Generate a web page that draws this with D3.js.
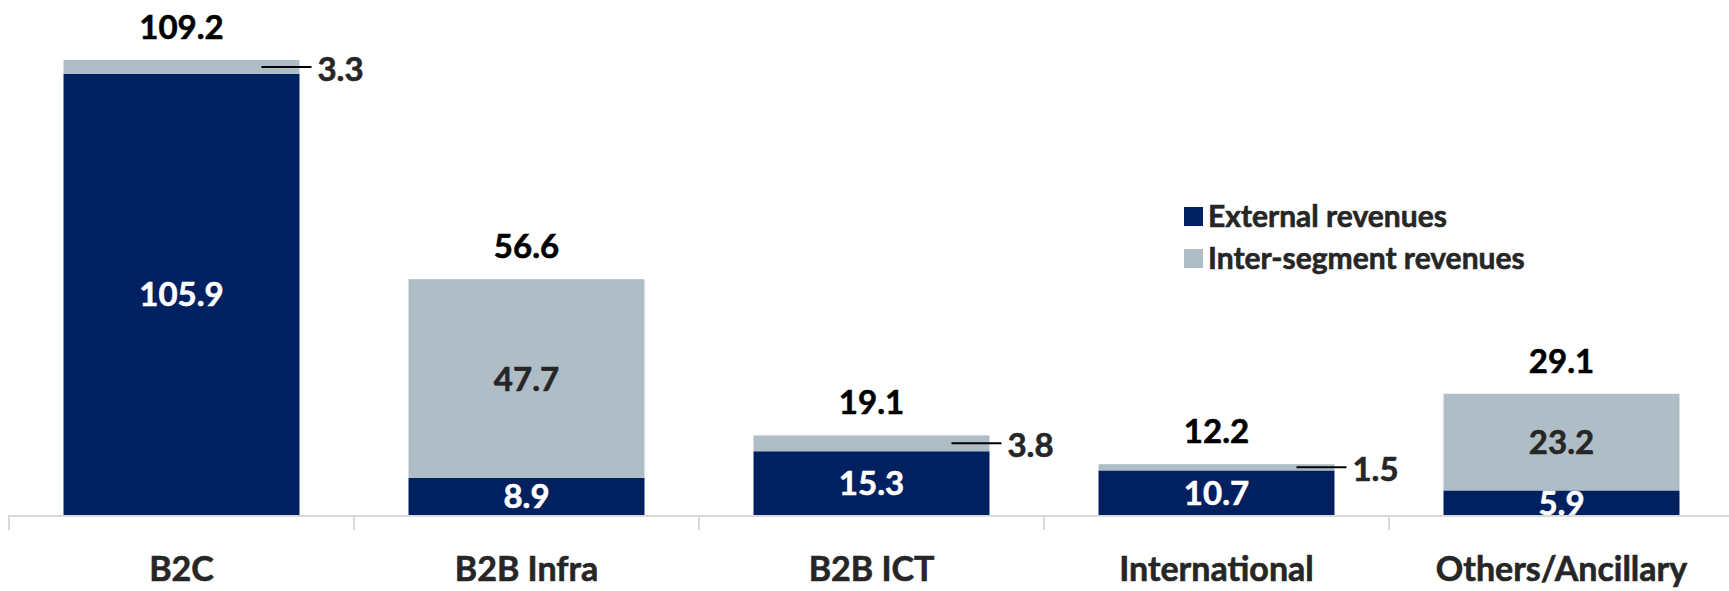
<!DOCTYPE html>
<meta charset="utf-8">
<script src="https://cdn.jsdelivr.net/npm/d3@7"></script>
<style>
body { margin: 0; background: #fff; }
text { font-family: Lato, "Open Sans", sans-serif; font-weight: bold; stroke-width: 0.6px; }
</style>
<body>
<script>

// values
var categories = ["B2C", "B2B Infra", "B2B ICT", "International", "Others/Ancillary"];
var external = [105.9, 8.9, 15.3, 10.7, 5.9];
var interSegment = [3.3, 47.7, 3.8, 1.5, 23.2];
var totals = [109.2, 56.6, 19.1, 12.2, 29.1];
var seriesNames = ["External revenues", "Inter-segment revenues"];

var width = 1729,
    height = 591,
    baseY = 515;

var navy = "#002060",
    grey = "#AFBDC6",
    dark = "#262626";

var svg = d3.select("body").append("svg")
    .attr("width", width)
    .attr("height", height);

var x = d3.scaleBand()
    .domain(categories)
    .range([9, 9 + 345 * categories.length])
    .paddingInner(0.316)
    .paddingOuter(0.158);

var y = d3.scaleLinear()
    .domain([0, 120])
    .range([baseY, baseY - 500]);

var rows = categories.map(function(c, i) {
  return {cat: c, ext: external[i], inter: interSegment[i], total: totals[i]};
});

svg.append("clipPath").attr("id", "plot")
  .append("rect").attr("x", 0).attr("y", 0).attr("width", width).attr("height", baseY);

// bars
var bars = svg.append("g");
bars.selectAll("rect.ext")
    .data(rows)
    .enter().append("rect")
    .attr("class", "ext")
    .attr("x", d => x(d.cat))
    .attr("width", x.bandwidth())
    .attr("y", d => y(d.ext))
    .attr("height", d => baseY - y(d.ext))
    .style("fill", navy);

bars.selectAll("rect.inter")
    .data(rows)
    .enter().append("rect")
    .attr("class", "inter")
    .attr("x", d => x(d.cat))
    .attr("width", x.bandwidth())
    .attr("y", d => y(d.ext + d.inter))
    .attr("height", d => y(d.ext) - y(d.ext + d.inter))
    .style("fill", grey);

// axis
svg.append("line")
    .attr("x1", 9).attr("x2", width)
    .attr("y1", baseY + 1).attr("y2", baseY + 1)
    .style("stroke", "#D9D9D9").style("stroke-width", 2);

svg.append("g").selectAll("line")
    .data(d3.range(categories.length + 1))
    .enter().append("line")
    .attr("x1", i => 9 + x.step() * i).attr("x2", i => 9 + x.step() * i)
    .attr("y1", baseY).attr("y2", baseY + 15)
    .style("stroke", "#D9D9D9").style("stroke-width", 2);

svg.append("g").selectAll("text")
    .data(categories)
    .enter().append("text")
    .attr("x", d => x(d) + x.bandwidth() / 2)
    .attr("y", 581)
    .attr("text-anchor", "middle")
    .style("font-size", "34px")
    .style("fill", dark).style("stroke", dark)
    .text(d => d);

// labels
var labels = svg.append("g").attr("clip-path", "url(#plot)");
labels.selectAll("text.ext")
    .data(rows)
    .enter().append("text")
    .attr("x", d => x(d.cat) + x.bandwidth() / 2)
    .attr("y", d => (y(d.ext) + baseY) / 2 + 12)
    .attr("text-anchor", "middle")
    .style("font-size", "33px")
    .style("fill", "#fff").style("stroke", "#fff")
    .text(d => d.ext.toFixed(1));

var small = rows.filter(d => y(d.ext) - y(d.ext + d.inter) < 30);
var big = rows.filter(d => y(d.ext) - y(d.ext + d.inter) >= 30);

svg.append("g").selectAll("text")
    .data(big)
    .enter().append("text")
    .attr("x", d => x(d.cat) + x.bandwidth() / 2)
    .attr("y", d => (y(d.ext) + y(d.ext + d.inter)) / 2 + 12)
    .attr("text-anchor", "middle")
    .style("font-size", "33px")
    .style("fill", dark).style("stroke", dark)
    .text(d => d.inter.toFixed(1));

var callout = svg.append("g").selectAll("g")
    .data(small)
    .enter().append("g");
callout.append("line")
    .attr("x1", d => x(d.cat) + x.bandwidth() - 38)
    .attr("x2", d => x(d.cat) + x.bandwidth() + 12)
    .attr("y1", d => (y(d.ext) + y(d.ext + d.inter)) / 2)
    .attr("y2", d => (y(d.ext) + y(d.ext + d.inter)) / 2)
    .style("stroke", "#000").style("stroke-width", 2);
callout.append("text")
    .attr("x", d => x(d.cat) + x.bandwidth() + 18)
    .attr("y", d => (y(d.ext) + y(d.ext + d.inter)) / 2 + 14)
    .style("font-size", "33px")
    .style("fill", dark).style("stroke", dark)
    .text(d => d.inter.toFixed(1));

svg.append("g").selectAll("text")
    .data(rows)
    .enter().append("text")
    .attr("x", d => x(d.cat) + x.bandwidth() / 2)
    .attr("y", d => y(d.total) - 21)
    .attr("text-anchor", "middle")
    .style("font-size", "33px")
    .style("fill", "#000").style("stroke", "#000")
    .text(d => d.total.toFixed(1));

// legend
var legend = svg.append("g").selectAll("g")
    .data(seriesNames)
    .enter().append("g")
    .attr("transform", (d, i) => "translate(1184," + (207 + i * 42) + ")");
legend.append("rect")
    .attr("width", 19).attr("height", 19)
    .style("fill", (d, i) => i == 0 ? navy : grey);
legend.append("text")
    .attr("x", 24).attr("y", 20)
    .style("font-size", "30px")
    .style("fill", dark).style("stroke", dark)
    .text(d => d);

</script>
</body>
